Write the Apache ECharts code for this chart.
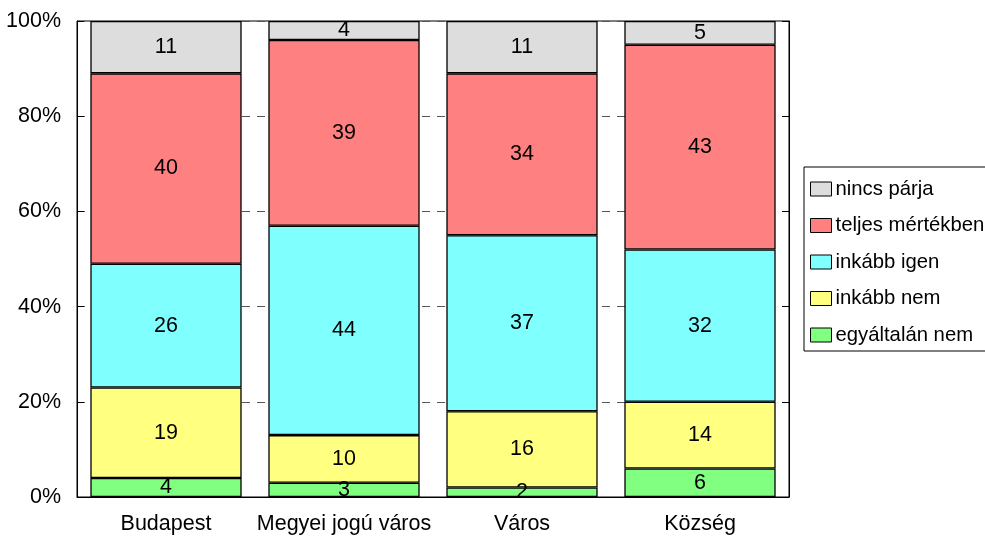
<!DOCTYPE html>
<html>
<head>
<meta charset="utf-8">
<script src="https://cdn.jsdelivr.net/npm/echarts@6/dist/echarts.min.js"></script>
<style>html,body{margin:0;padding:0;background:#fff;}#c{width:985px;height:536px;}</style>
</head>
<body>
<div id="c"></div>
<script>
const categories = ['Budapest', 'Megyei jogú város', 'Város', 'Község'];
const egyaltalanNem = [4, 3, 2, 6];
const inkabbNem = [19, 10, 16, 14];
const inkabbIgen = [26, 44, 37, 32];
const teljesMertekben = [40, 39, 34, 43];
const nincsParja = [11, 4, 11, 5];
const yTicks = [0, 20, 40, 60, 80, 100];

const FONT = '"Liberation Sans", Arial, sans-serif';
const FS = 21.5;
const chart = echarts.init(document.getElementById('c'), null, {renderer: 'canvas'});

function mk(name, data, color) {
  return {
    name: name, type: 'bar', stack: 'total', data: data,
    barCategoryGap: '15%',
    itemStyle: {color: color, borderColor: '#000', borderWidth: 1.3},
    label: {show: true, position: 'inside', color: '#000', fontFamily: FONT, fontSize: FS},
    emphasis: {disabled: true}
  };
}

chart.setOption({
  animation: false,
  backgroundColor: '#fff',
  grid: {left: 77, right: 196, top: 21, bottom: 39, show: true, borderColor: '#000', borderWidth: 1,
         containLabel: false, outerBoundsMode: 'none'},
  legend: {
    orient: 'vertical', left: 804, top: 167,
    padding: [12, 30, 6, 6], itemGap: 16.5,
    itemWidth: 21, itemHeight: 14, icon: 'rect',
    borderColor: '#000', borderWidth: 1,
    itemStyle: {borderColor: '#000', borderWidth: 1},
    textStyle: {color: '#000', fontFamily: FONT, fontSize: 20.3, padding: [0,0,0,-1]},
    data: ['nincs párja', 'teljes mértékben', 'inkább igen', 'inkább nem', 'egyáltalán nem']
  },
  xAxis: {
    type: 'category', data: categories,
    axisTick: {show: false},
    axisLine: {lineStyle: {color: '#000', width: 1}},
    axisLabel: {color: '#000', fontFamily: FONT, fontSize: FS, margin: 16, interval: 0}
  },
  yAxis: [{
    type: 'value', min: yTicks[0], max: yTicks[yTicks.length - 1], interval: 20,
    axisLine: {show: true, lineStyle: {color: '#000', width: 1}},
    axisTick: {show: true, inside: true, length: 7, lineStyle: {color: '#000'}},
    axisLabel: {color: '#000', fontFamily: FONT, fontSize: FS, margin: 16, formatter: '{value}%'},
    splitLine: {show: true, lineStyle: {color: '#555', width: 1, type: [8, 7]}}
  }, {
    type: 'value', position: 'right', min: yTicks[0], max: yTicks[yTicks.length - 1], interval: 20,
    axisLine: {show: true, lineStyle: {color: '#000', width: 1}},
    axisTick: {show: true, inside: true, length: 7, lineStyle: {color: '#000'}},
    axisLabel: {show: false},
    splitLine: {show: false}
  }],
  series: [
    mk('egyáltalán nem', egyaltalanNem, '#80FF80'),
    mk('inkább nem', inkabbNem, '#FFFF80'),
    mk('inkább igen', inkabbIgen, '#80FFFF'),
    mk('teljes mértékben', teljesMertekben, '#FF8080'),
    mk('nincs párja', nincsParja, '#DDDDDD')
  ]
});
</script>
</body>
</html>
